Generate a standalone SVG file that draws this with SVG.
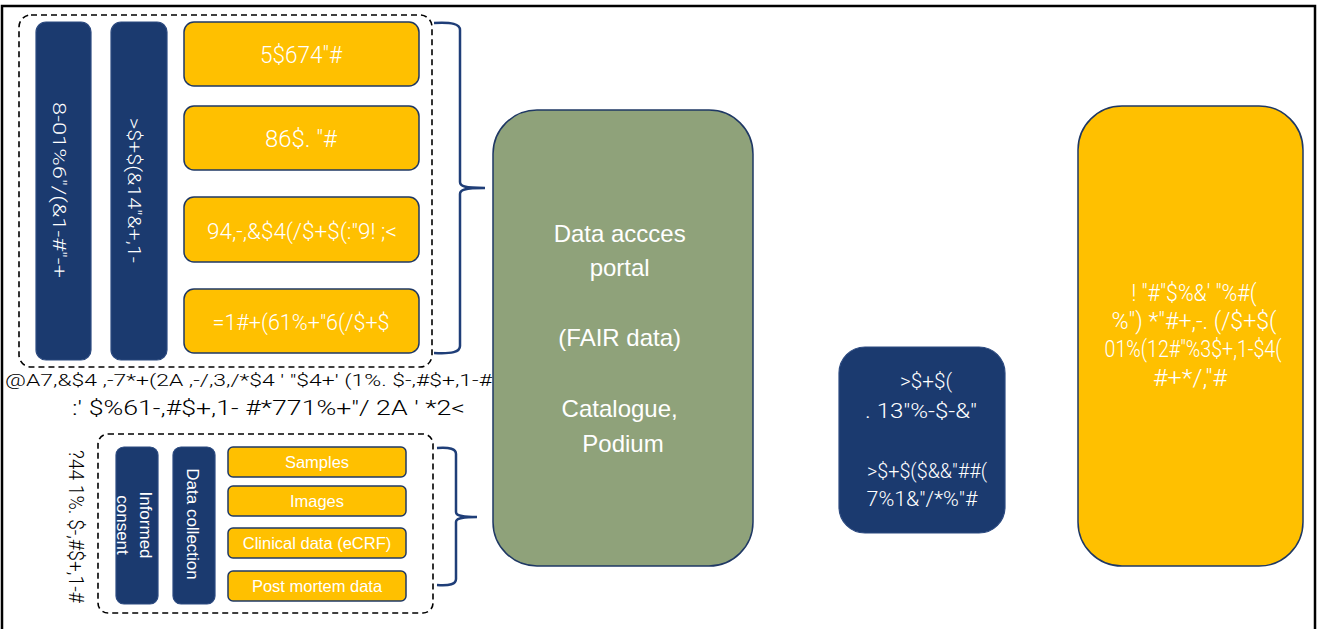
<svg xmlns="http://www.w3.org/2000/svg" width="1319" height="629" viewBox="0 0 1319 629">
<style>
.frame{fill:none;stroke:#000;stroke-width:2.5}
.dash{fill:none;stroke:#000;stroke-width:1.6;stroke-dasharray:6 4}
.navy{fill:#1b3a6f;stroke:#2c4a80;stroke-width:1.2}
.yel{fill:#ffc000;stroke:#1f3864;stroke-width:1.5}
.green{fill:#8fa27a;stroke:#1f3864;stroke-width:1.5}
.brace{fill:none;stroke:#1f3e78;stroke-width:2.5}
.t{font-family:"Liberation Sans",Arial,sans-serif;fill:#fff}
.g{font-family:Roboto,"Liberation Sans",sans-serif;font-weight:300;fill:#fff}
.gk{font-family:Roboto,"Liberation Sans",sans-serif;font-weight:300;fill:#000}
.m{text-anchor:middle}
</style>
<rect class="frame" x="2" y="6" width="1313" height="640"/>

<g id="top-group">
<rect class="dash" x="19" y="15" width="413" height="352" rx="12"/>
</g>
<g id="col-top-1">
<rect class="navy" x="36" y="22" width="55" height="338" rx="10"/>
<text class="g m" font-size="19" transform="translate(53,190) rotate(90)" textLength="176" lengthAdjust="spacingAndGlyphs">8-01%6"/(&amp;1-#"-+</text>
</g>
<g id="col-top-2">
<rect class="navy" x="111" y="22" width="56" height="338" rx="10"/>
<text class="g m" font-size="19" transform="translate(128,190.5) rotate(90)" textLength="145" lengthAdjust="spacingAndGlyphs">&gt;$+$(&amp;14"&amp;+,1-</text>
</g>
<g id="box-top-1">
<rect class="yel" x="184" y="22" width="235" height="64" rx="10"/>
<text class="g m" font-size="23" x="301" y="63" textLength="82" lengthAdjust="spacingAndGlyphs">5$674"#</text>
</g>
<g id="box-top-2">
<rect class="yel" x="184" y="106" width="235" height="64" rx="10"/>
<text class="g m" font-size="23" x="301" y="147" textLength="72" lengthAdjust="spacingAndGlyphs">86$. "#</text>
</g>
<g id="box-top-3">
<rect class="yel" x="184" y="197" width="235" height="65" rx="10"/>
<text class="g m" font-size="22" x="302" y="239" textLength="190" lengthAdjust="spacingAndGlyphs">94,-,&amp;$4(/$+$(:"9! ;&lt;</text>
</g>
<g id="box-top-4">
<rect class="yel" x="184" y="289" width="235" height="64" rx="10"/>
<text class="g m" font-size="22" x="301" y="330" textLength="177" lengthAdjust="spacingAndGlyphs">=1#+(61%+"6(/$+$</text>
</g>
<g id="caption">
<text class="gk" font-size="17" x="5" y="386" textLength="487" lengthAdjust="spacingAndGlyphs">@A7,&amp;$4 ,-7*+(2A ,-/,3,/*$4 ' "$4+' (1%. $-,#$+,1-#</text>
<text class="gk" font-size="20" x="72" y="415" textLength="393" lengthAdjust="spacingAndGlyphs">:' $%61-,#$+,1- #*771%+"/ 2A ' *2&lt;</text>
</g>

<g id="bottom-group">
<rect class="dash" x="98" y="434" width="335" height="179" rx="10"/>
<text class="gk m" font-size="21" transform="translate(69,526.5) rotate(90)" textLength="153" lengthAdjust="spacingAndGlyphs">?44 1%. $-,#$+,1-#</text>
</g>
<g id="informed-consent">
<rect class="navy" x="116" y="447" width="42" height="157" rx="8"/>
<text class="t m" font-size="17" transform="translate(137,525) rotate(90)"><tspan x="0" y="-3">Informed</tspan><tspan x="0" y="20">consent</tspan></text>
</g>
<g id="data-collection">
<rect class="navy" x="173" y="447" width="42" height="157" rx="8"/>
<text class="t m" font-size="17" transform="translate(194,524) rotate(90)" x="0" y="7">Data collection</text>
</g>
<g id="samples">
<rect class="yel" x="228" y="447" width="178" height="30" rx="5"/>
<text class="t m" font-size="16.5" x="317" y="468">Samples</text>
</g>
<g id="images">
<rect class="yel" x="228" y="486" width="178" height="30" rx="5"/>
<text class="t m" font-size="16.5" x="317" y="507">Images</text>
</g>
<g id="clinical">
<rect class="yel" x="228" y="528" width="178" height="30" rx="5"/>
<text class="t m" font-size="16.5" x="317" y="549">Clinical data (eCRF)</text>
</g>
<g id="postmortem">
<rect class="yel" x="228" y="571" width="178" height="30" rx="5"/>
<text class="t m" font-size="16.5" x="317" y="592">Post mortem data</text>
</g>

<g id="connectors">
<path class="brace" d="M434,23 C452,22 460,24 460,30 L460,182 C460,186 464,188 485,188 C464,188 460,190 460,194 L460,346 C460,352 452,354 434,353"/>
<path class="brace" d="M437,448 C450,447 456,449 456,454 L456,512 C456,515 459,517 477,517 C459,517 456,519 456,522 L456,579 C456,584 450,586 437,585"/>
</g>

<g id="portal">
<rect class="green" x="493" y="110" width="260" height="456" rx="44"/>
<text class="t m" font-size="24">
<tspan x="623" y="242">Data accces</tspan>
<tspan x="623" y="276">portal</tspan>
<tspan x="623" y="346">(FAIR data)</tspan>
<tspan x="623" y="417">Catalogue,</tspan>
<tspan x="623" y="452">Podium</tspan>
</text>
</g>

<g id="mid-box">
<rect class="navy" x="839" y="347" width="166" height="186" rx="26"/>
<text class="g m" font-size="20" x="926" y="388" textLength="52" lengthAdjust="spacingAndGlyphs">&gt;$+$(</text>
<text class="g m" font-size="20" x="921" y="418" textLength="112" lengthAdjust="spacingAndGlyphs">. 13"%-$-&amp;"</text>
<text class="g m" font-size="20" x="927" y="478" textLength="120" lengthAdjust="spacingAndGlyphs">&gt;$+$($&amp;&amp;"##(</text>
<text class="g m" font-size="20" x="922" y="506" textLength="111" lengthAdjust="spacingAndGlyphs">7%1&amp;"/*%"#</text>
</g>

<g id="right-box">
<rect class="yel" x="1078" y="106" width="225" height="460" rx="44"/>
<text class="g m" font-size="24" x="1194" y="301" textLength="125" lengthAdjust="spacingAndGlyphs">! "#"$%&amp;' "%#(</text>
<text class="g m" font-size="24" x="1194" y="329" textLength="165" lengthAdjust="spacingAndGlyphs">%") *"#+,-. (/$+$(</text>
<text class="g m" font-size="24" x="1193" y="357" textLength="177" lengthAdjust="spacingAndGlyphs">01%(12#"%3$+,1-$4(</text>
<text class="g m" font-size="24" x="1190" y="386" textLength="74" lengthAdjust="spacingAndGlyphs">#+*/,"#</text>
</g>
</svg>
